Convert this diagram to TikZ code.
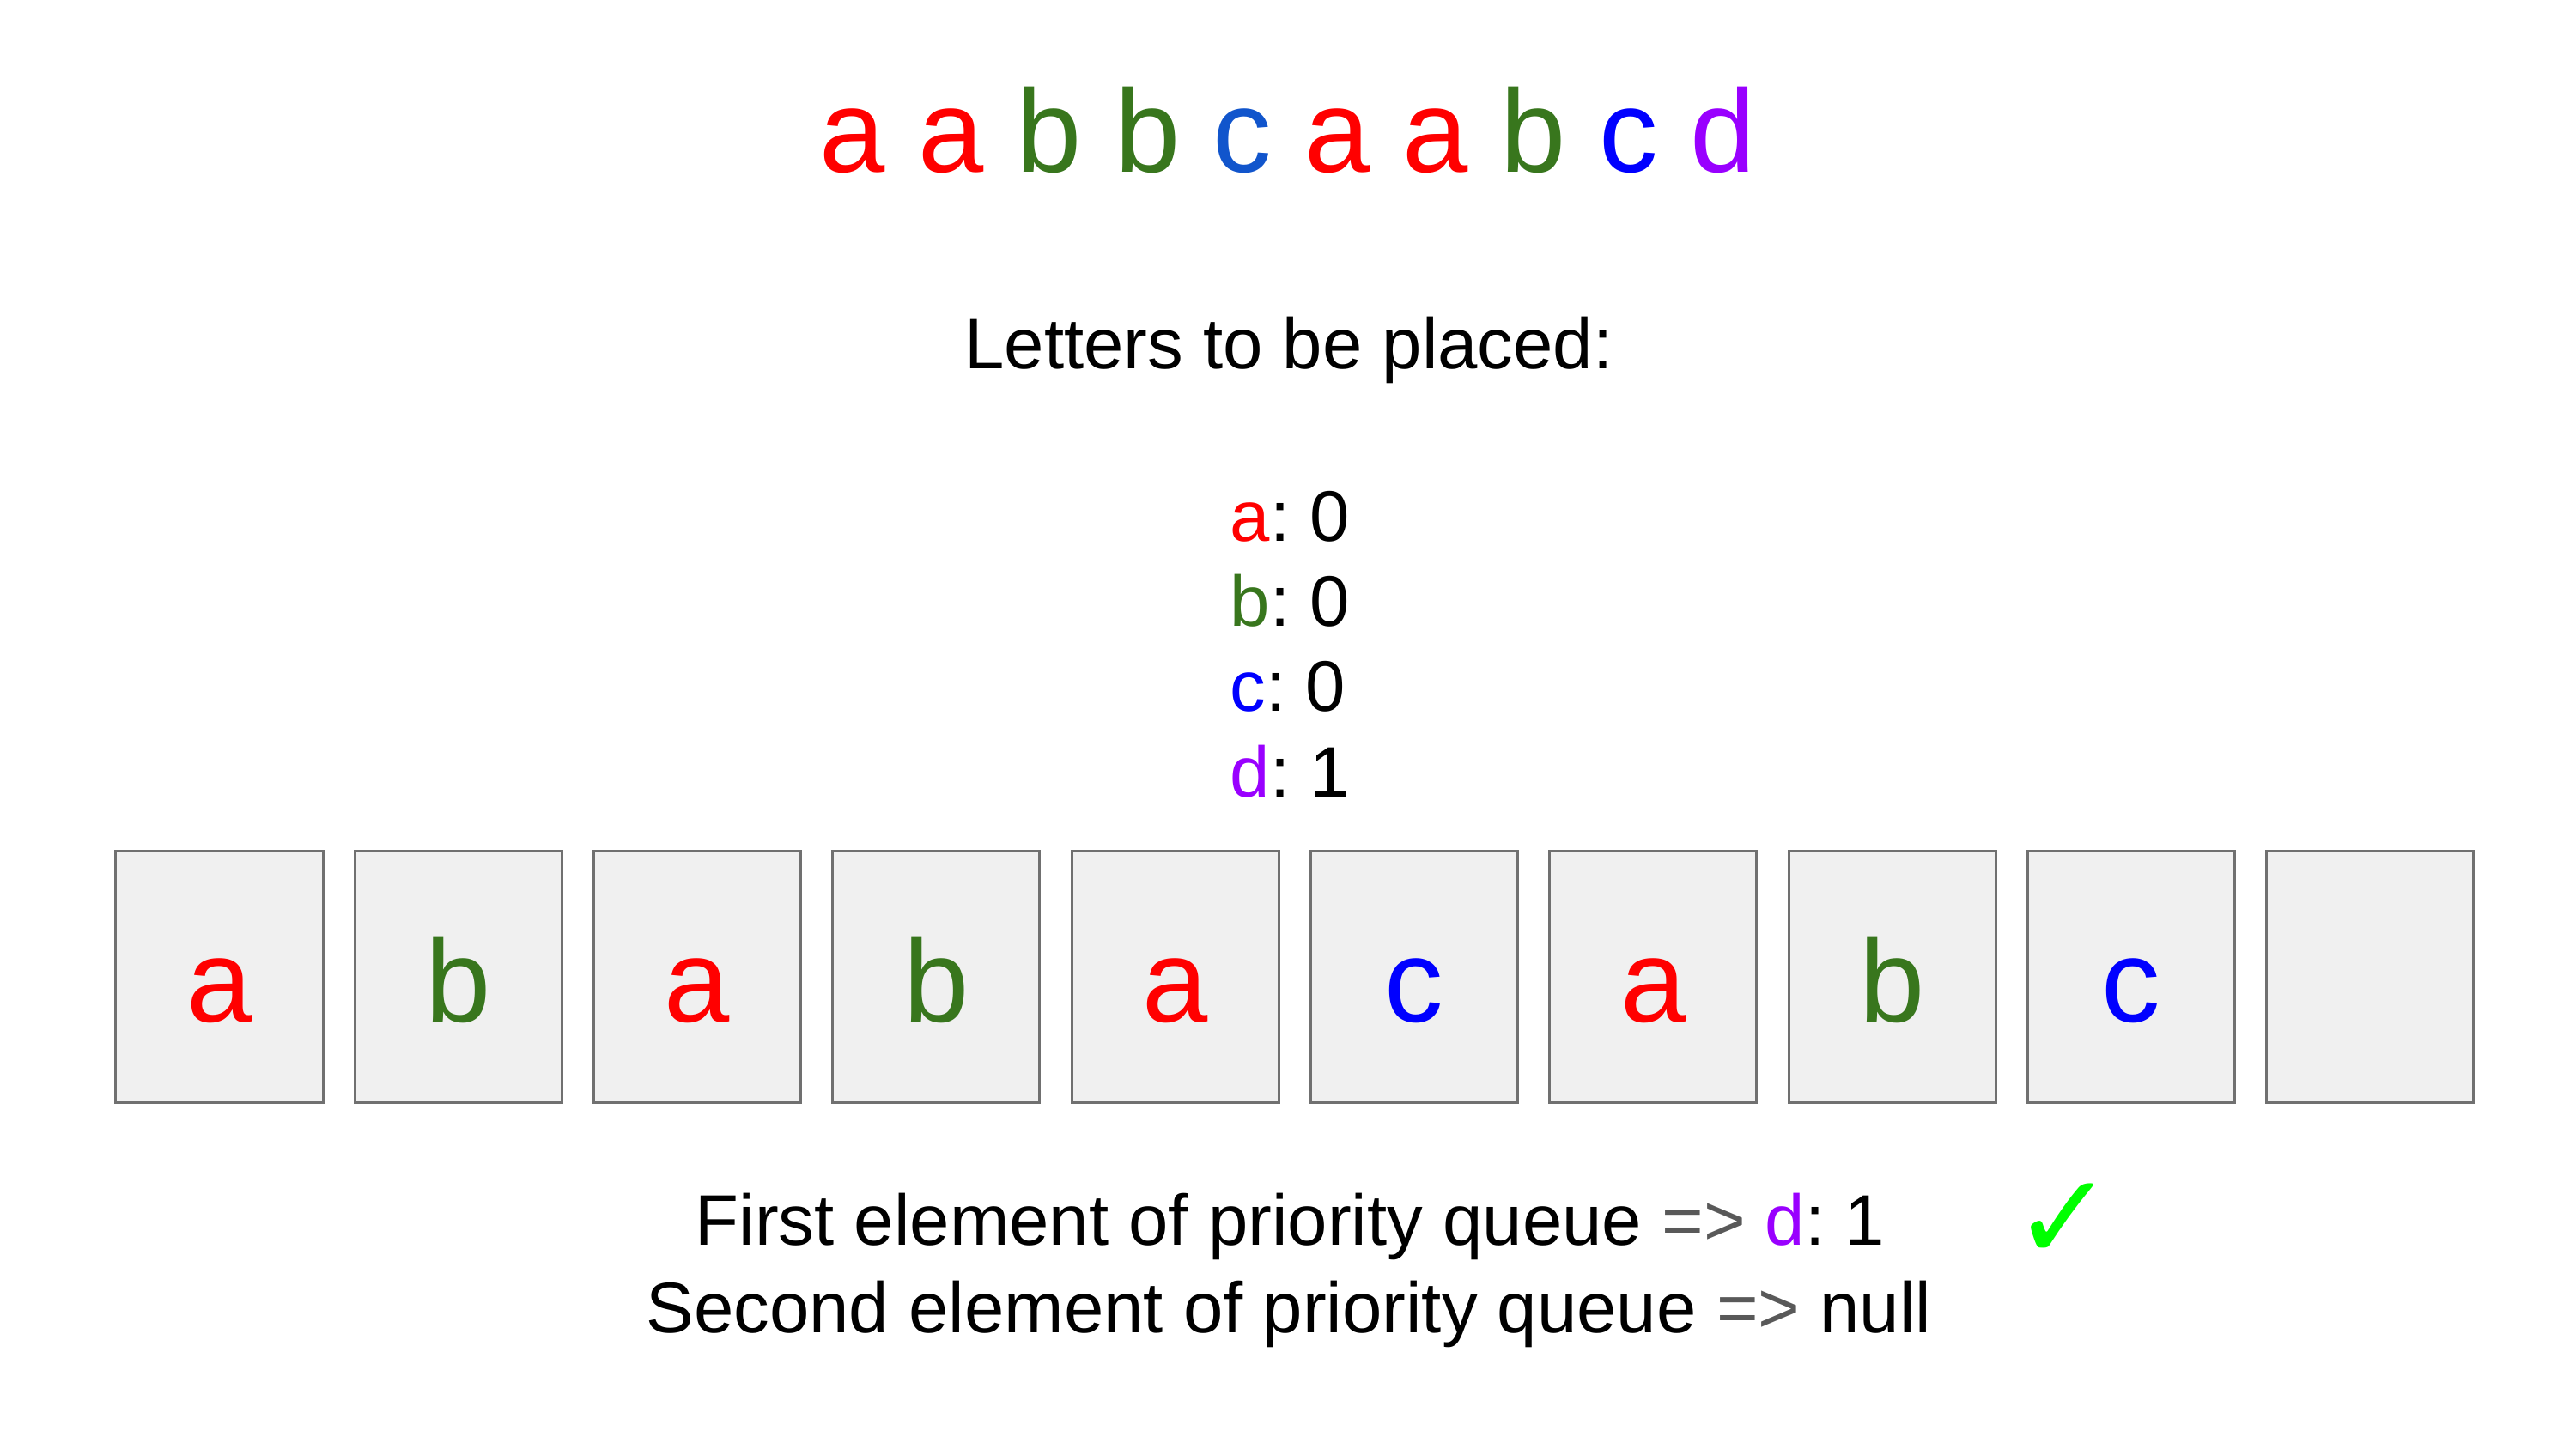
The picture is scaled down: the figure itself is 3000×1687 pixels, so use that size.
\documentclass[tikz,border=0pt]{standalone}
\usepackage{fontspec}
\setmainfont{Liberation Sans}
\newfontfamily\symfont{DejaVu Sans}
\frenchspacing
\definecolor{cA}{HTML}{FF0000}
\definecolor{cB}{HTML}{38761D}
\definecolor{cCa}{HTML}{1155CC}
\definecolor{cC}{HTML}{0000FF}
\definecolor{cD}{HTML}{9900FF}
\definecolor{arrowgray}{HTML}{595959}
\definecolor{boxfill}{HTML}{F0F0F0}
\definecolor{boxline}{HTML}{707070}
\definecolor{checkgreen}{HTML}{00FF00}
\begin{document}
\begin{tikzpicture}[x=0.01cm,y=-0.01cm,
  cell/.style={draw=boxline,fill=boxfill,line width=0.85pt,minimum width=2.41cm,minimum height=2.92cm,inner sep=0pt,outer sep=0pt},
  big/.style={inner sep=0pt,font=\fontsize{39}{46}\selectfont},
  mid/.style={inner sep=0pt,font=\fontsize{23.7}{28}\selectfont}]
\useasboundingbox (0,0) rectangle (3000,1687);
% sequence
\node[big,anchor=base] (seq) at (1500,200) {\textcolor{cA}{a} \textcolor{cA}{a} \textcolor{cB}{b} \textcolor{cB}{b} \textcolor{cCa}{c} \textcolor{cA}{a} \textcolor{cA}{a} \textcolor{cB}{b} \textcolor{cC}{c} \textcolor{cD}{d}};
% title
\node[mid,anchor=base] (title) at (1501,429) {Letters to be placed:};
% counts
\node[mid,anchor=base west] (ca) at (1432,630) {\textcolor{cA}{a}: 0};
\node[mid,anchor=base west] (cb) at (1432,729) {\textcolor{cB}{b}: 0};
\node[mid,anchor=base west] (cc) at (1432,828) {\textcolor{cC}{c}: 0};
\node[mid,anchor=base west] (cd) at (1432,928) {\textcolor{cD}{d}: 1};
% boxes
\foreach \i/\t/\c in {1/a/cA,2/b/cB,3/a/cA,4/b/cB,5/a/cA,6/c/cC,7/a/cA,8/b/cB,9/c/cC,10//black}{
  \pgfmathsetmacro{\cx}{255.5+(\i-1)*278.3}
  \node[cell] (b\i) at (\cx,1138) {};
  \node[big,anchor=base,text=\c] (l\i) at (\cx,1190) {\t};
}
% bottom lines
\node[mid,anchor=base west] (first) at (809,1450) {First element of priority queue \textcolor{arrowgray}{=>} \textcolor{cD}{d}: 1};
\node[mid,anchor=base west] (second) at (752,1552) {Second element of priority queue \textcolor{arrowgray}{=>} null};
\node[inner sep=0pt,text=checkgreen,font=\symfont\fontsize{40}{46}\selectfont] (check) at (2403,1423) {✓};
\end{tikzpicture}
\end{document}
